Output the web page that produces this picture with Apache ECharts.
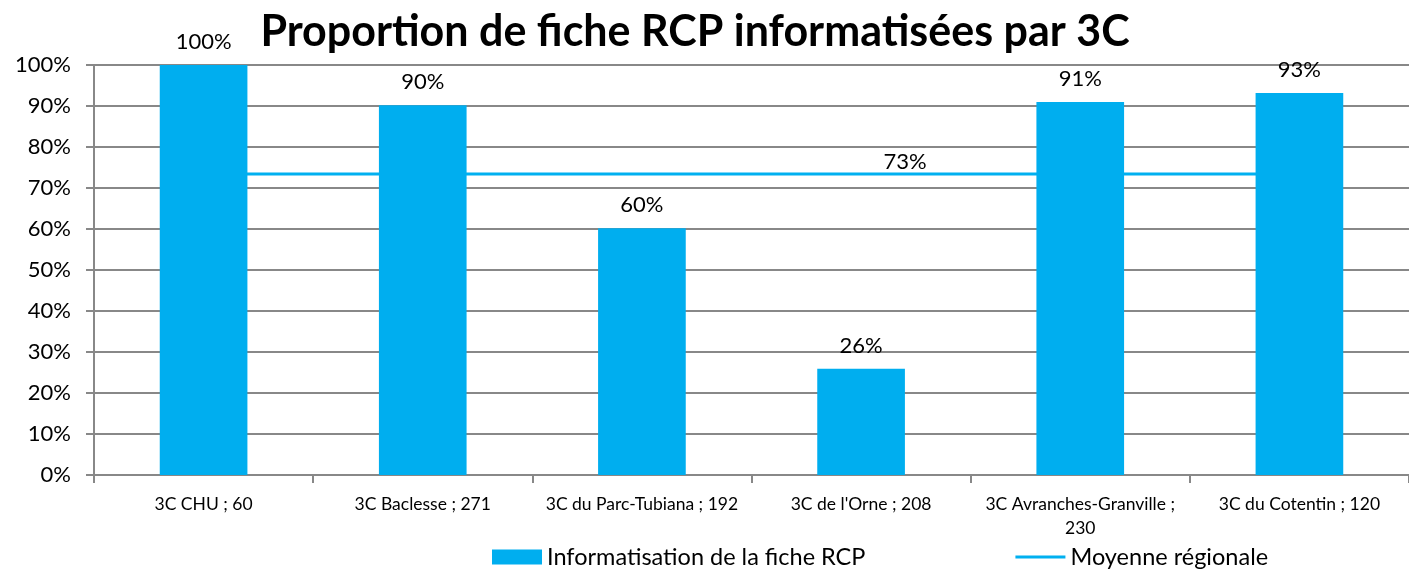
<!DOCTYPE html>
<html>
<head>
<meta charset="utf-8">
<script src="https://cdn.jsdelivr.net/npm/echarts@6/dist/echarts.min.js"></script>
<style>
  html, body { margin: 0; padding: 0; background: #fff; }
  #dataChart { width: 1409px; height: 570px; }
</style>
</head>
<body>
<div id="dataChart"></div>
<script>
  let categories = ['3C CHU ; 60', '3C Baclesse ; 271', '3C du Parc-Tubiana ; 192', "3C de l'Orne ; 208", '3C Avranches-Granville ;\n230', '3C du Cotentin ; 120']
  let ficheValues = [100, 90.2, 60.2, 25.9, 91, 93.2]
  let ficheLabels = ['100%', '90%', '60%', '26%', '91%', '93%']
  let moyenne = 73.4
  let moyenneLabel = '73%'
  let yTicks = [0, 10, 20, 30, 40, 50, 60, 70, 80, 90, 100]

  let font = 'Lato'
  let charts = echarts.init(document.getElementById('dataChart'))
  let moyenneData = categories.map(function (c, i) {
    if (i === 3) {
      return { value: moyenne, label: { show: true, formatter: moyenneLabel, offset: [44, 4] } }
    }
    return moyenne
  })
  charts.setOption({
    animation: false,
    title: {
      text: 'Proportion de fiche RCP informatisées par 3C',
      left: 690,
      textAlign: 'center',
      top: 6,
      textStyle: { fontFamily: font, fontSize: 43, fontWeight: 'bold', color: '#000' }
    },
    grid: { left: 94, right: -5, top: 65, bottom: 95 },
    legend: {
      bottom: -4,
      left: 487,
      itemGap: 150,
      itemWidth: 50,
      itemHeight: 15,
      textStyle: { fontFamily: font, fontSize: 23.5, color: '#000' },
      data: [
        { name: 'Informatisation de la fiche RCP', icon: 'rect' },
        { name: 'Moyenne régionale', icon: 'path://M0,0 L50,0 L50,3 L0,3 Z' }
      ]
    },
    xAxis: {
      type: 'category',
      data: categories,
      axisLine: { lineStyle: { color: '#888', width: 2 } },
      axisTick: { show: true, length: 8, lineStyle: { color: '#888', width: 2 } },
      axisLabel: { fontFamily: font, fontSize: 17.5, color: '#000', margin: 17, lineHeight: 24, interval: 0 }
    },
    yAxis: {
      type: 'value',
      min: 0,
      max: 100,
      interval: 10,
      axisLine: { show: true, lineStyle: { color: '#888', width: 2 } },
      axisTick: { show: true, length: 8, lineStyle: { color: '#888', width: 2 } },
      splitLine: { lineStyle: { color: '#888', width: 2 } },
      axisLabel: {
        fontFamily: font, fontSize: 22, color: '#000', margin: 23,
        formatter: function (val) {
          return yTicks.indexOf(val) >= 0 ? val + '%' : ''
        }
      }
    },
    series: [
      {
        name: 'Moyenne régionale',
        type: 'line',
        data: moyenneData,
        showSymbol: true,
        symbol: 'circle',
        symbolSize: 0,
        z: 1,
        lineStyle: { color: '#00B0F0', width: 3 },
        itemStyle: { color: '#00B0F0' },
        label: { show: false, position: 'top', fontFamily: font, fontSize: 22, color: '#000' }
      },
      {
        name: 'Informatisation de la fiche RCP',
        type: 'bar',
        data: ficheValues,
        barWidth: '40%',
        z: 3,
        itemStyle: { color: '#00AEEF' },
        label: {
          show: true,
          position: 'top',
          distance: 12,
          fontFamily: font,
          fontSize: 22,
          color: '#000',
          formatter: function (p) {
            return ficheLabels[p.dataIndex]
          }
        }
      }
    ]
  })
</script>
</body>
</html>
